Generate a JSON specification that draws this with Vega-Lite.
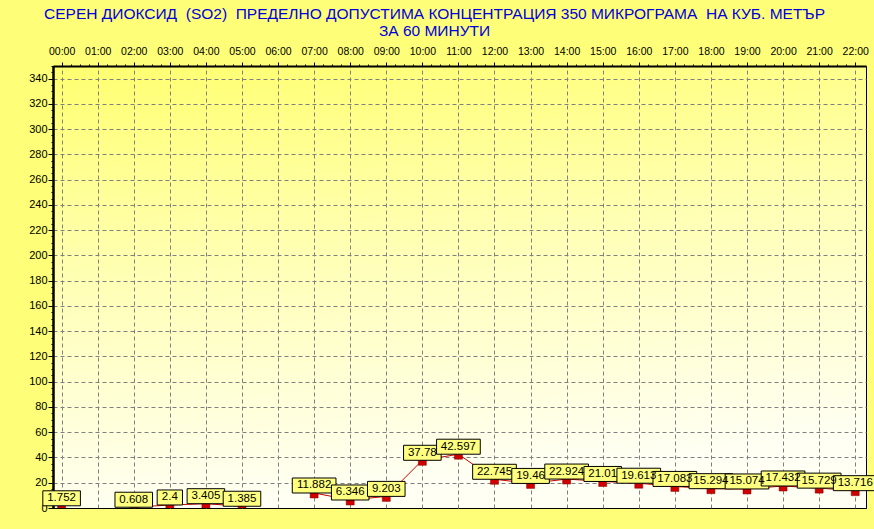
{
  "$schema": "https://vega.github.io/schema/vega-lite/v6.json",
  "width": 813,
  "height": 442,
  "autosize": {"type": "none"},
  "padding": {"left": 53, "top": 66, "right": 8, "bottom": 21},
  "background": "#FEFE78",
  "title": {
    "text": ["СЕРЕН ДИОКСИД \u00a0(SO2) \u00a0ПРЕДЕЛНО ДОПУСТИМА КОНЦЕНТРАЦИЯ 350 МИКРОГРАМА \u00a0НА КУБ. МЕТЪР", "ЗА 60 МИНУТИ"],
    "frame": "group",
    "anchor": "middle",
    "dx": -25,
    "offset": 7,
    "font": "Liberation Sans",
    "fontSize": 15.5,
    "fontWeight": "normal",
    "color": "#0000DD",
    "lineHeight": 17
  },
  "config": {
    "view": {
      "stroke": "black",
      "strokeWidth": 1,
      "fill": {
        "gradient": "linear",
        "x1": 0, "y1": 0, "x2": 0.2, "y2": 1,
        "stops": [
          {"offset": 0, "color": "#FFFF70"},
          {"offset": 0.5, "color": "#FFFFB8"},
          {"offset": 1, "color": "#FFFFF4"}
        ]
      }
    },
    "axis": {
      "labelFont": "Liberation Sans",
      "labelFontSize": 10.5,
      "labelColor": "black",
      "tickColor": "black",
      "domainColor": "black",
      "labelOverlap": false,
      "labelFlush": false,
      "title": null
    }
  },
  "data": {
    "values": [
      {"hour": 0, "value": 1.752},
      {"hour": 1, "value": null},
      {"hour": 2, "value": 0.608},
      {"hour": 3, "value": 2.4},
      {"hour": 4, "value": 3.405},
      {"hour": 5, "value": 1.385},
      {"hour": 6, "value": null},
      {"hour": 7, "value": 11.882},
      {"hour": 8, "value": 6.346},
      {"hour": 9, "value": 9.203},
      {"hour": 10, "value": 37.78},
      {"hour": 11, "value": 42.597},
      {"hour": 12, "value": 22.745},
      {"hour": 13, "value": 19.46},
      {"hour": 14, "value": 22.924},
      {"hour": 15, "value": 21.01},
      {"hour": 16, "value": 19.613},
      {"hour": 17, "value": 17.083},
      {"hour": 18, "value": 15.294},
      {"hour": 19, "value": 15.074},
      {"hour": 20, "value": 17.432},
      {"hour": 21, "value": 15.729},
      {"hour": 22, "value": 13.716}
    ]
  },
  "encoding": {
    "x": {
      "field": "hour",
      "type": "quantitative",
      "scale": {"domain": [-0.1, 22.16], "nice": false, "zero": false},
      "axis": {
        "orient": "top",
        "values": [0,0.25,0.5,0.75,1,1.25,1.5,1.75,2,2.25,2.5,2.75,3,3.25,3.5,3.75,4,4.25,4.5,4.75,5,5.25,5.5,5.75,6,6.25,6.5,6.75,7,7.25,7.5,7.75,8,8.25,8.5,8.75,9,9.25,9.5,9.75,10,10.25,10.5,10.75,11,11.25,11.5,11.75,12,12.25,12.5,12.75,13,13.25,13.5,13.75,14,14.25,14.5,14.75,15,15.25,15.5,15.75,16,16.25,16.5,16.75,17,17.25,17.5,17.75,18,18.25,18.5,18.75,19,19.25,19.5,19.75,20,20.25,20.5,20.75,21,21.25,21.5,21.75,22],
        "labelExpr": "datum.value % 1 === 0 ? (datum.value < 10 ? '0' : '') + datum.value + ':00' : ''",
        "tickSize": {"condition": {"test": "datum.value % 1 !== 0", "value": 2}, "value": 4},
        "labelPadding": 6,
        "domainWidth": 2,
        "grid": true,
        "gridColor": "#808080",
        "gridDash": [4, 3],
        "gridWidth": 1,
        "gridOpacity": {"condition": {"test": "datum.value % 1 !== 0", "value": 0}, "value": 1}
      }
    },
    "y": {
      "field": "value",
      "type": "quantitative",
      "scale": {"domain": [0, 350], "nice": false},
      "axis": {
        "orient": "left",
        "values": [0,5,10,15,20,25,30,35,40,45,50,55,60,65,70,75,80,85,90,95,100,105,110,115,120,125,130,135,140,145,150,155,160,165,170,175,180,185,190,195,200,205,210,215,220,225,230,235,240,245,250,255,260,265,270,275,280,285,290,295,300,305,310,315,320,325,330,335,340,345,350],
        "labelExpr": "datum.value % 20 === 0 ? datum.value : ''",
        "labelFontSize": 11,
        "tickSize": {"condition": {"test": "datum.value % 20 !== 0", "value": 2}, "value": 5},
        "labelPadding": 1,
        "domainWidth": 2.5,
        "grid": true,
        "gridColor": {"condition": {"test": "datum.value === 0", "value": "black"}, "value": "#808080"},
        "gridDash": [4, 3],
        "gridWidth": 1,
        "gridOpacity": {"condition": {"test": "datum.value % 20 !== 0", "value": 0}, "value": 1}
      }
    }
  },
  "layer": [
    {
      "mark": {"type": "line", "color": "#CC0000", "strokeWidth": 1, "invalid": "break-paths-show-domains"}
    },
    {
      "transform": [{"filter": "isValid(datum.value)"}],
      "mark": {"type": "bar", "size": 8, "fill": "#D00000", "stroke": "#800000", "strokeWidth": 0.5, "yOffset": 0, "y2Offset": 5, "clip": true},
      "encoding": {"y2": {"field": "value"}}
    },
    {
      "transform": [
        {"filter": "isValid(datum.value)"},
        {"calculate": "length(toString(datum.value))", "as": "len"}
      ],
      "mark": {"type": "bar", "fill": "#FFFF80", "stroke": "black", "strokeWidth": 1, "yOffset": 0, "y2Offset": -15},
      "encoding": {
        "y2": {"field": "value"},
        "size": {"field": "len", "type": "quantitative", "scale": {"domain": [3, 6], "range": [25.3, 43.7], "zero": false}, "legend": null}
      }
    },
    {
      "transform": [
        {"filter": "isValid(datum.value)"},
        {"calculate": "toString(datum.value)", "as": "label"}
      ],
      "mark": {"type": "text", "font": "Liberation Sans", "fontSize": 11.5, "color": "black", "baseline": "middle", "align": "center", "yOffset": -7.5},
      "encoding": {"text": {"field": "label", "type": "nominal"}}
    }
  ]
}
